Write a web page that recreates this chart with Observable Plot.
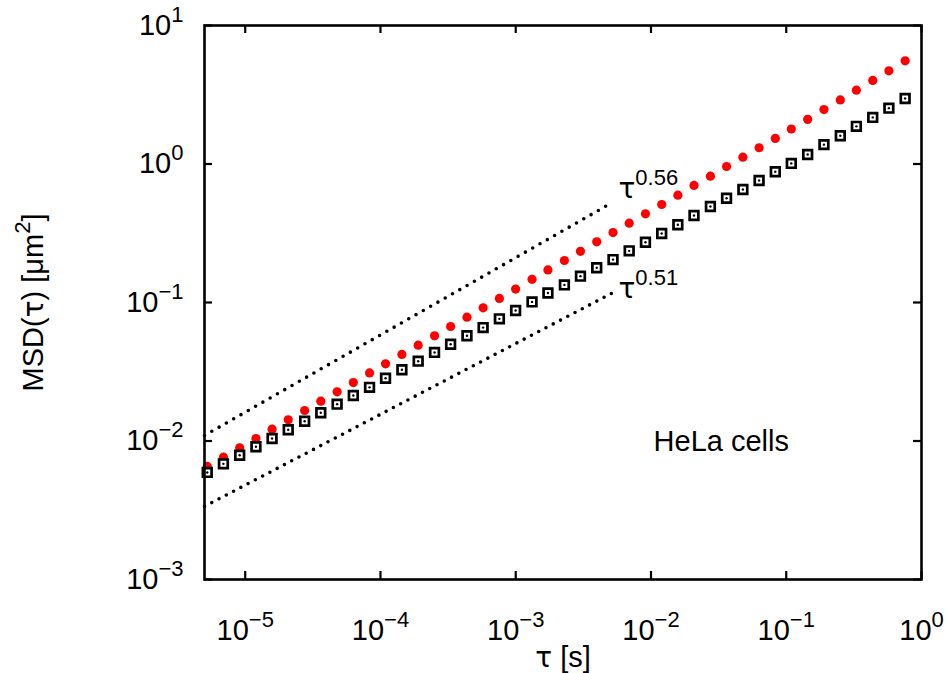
<!DOCTYPE html>
<html><head><meta charset="utf-8">
<script src="https://cdn.jsdelivr.net/npm/d3@7"></script>
<script src="https://cdn.jsdelivr.net/npm/@observablehq/plot@0.6"></script>
<style>html,body{margin:0;padding:0;background:#fff;}</style>
</head><body><div id="chart"></div>
<script>
// ---- data ----
const tau = [5.24e-6, 6.90e-6, 9.10e-6, 1.20e-5, 1.58e-5, 2.08e-5, 2.75e-5, 3.62e-5, 4.78e-5, 6.30e-5, 8.30e-5,
  1.09e-4, 1.44e-4, 1.90e-4, 2.51e-4, 3.30e-4, 4.36e-4, 5.74e-4, 7.57e-4, 9.98e-4,
  1.32e-3, 1.73e-3, 2.29e-3, 3.01e-3, 3.97e-3, 5.24e-3, 6.90e-3, 9.10e-3,
  1.20e-2, 1.58e-2, 2.08e-2, 2.75e-2, 3.62e-2, 4.78e-2, 6.30e-2, 8.30e-2,
  0.109, 0.144, 0.190, 0.251, 0.330, 0.436, 0.574, 0.757];
const msdRed = [6.55e-3, 7.64e-3, 8.93e-3, 1.042e-2, 1.217e-2, 1.422e-2, 1.660e-2, 1.938e-2, 2.265e-2, 2.64e-2,
  3.10e-2, 3.61e-2, 4.22e-2, 4.92e-2, 5.75e-2, 6.71e-2, 7.83e-2, 9.16e-2,
  0.107, 0.125, 0.147, 0.172, 0.201, 0.234, 0.274, 0.320, 0.374, 0.437, 0.510, 0.596, 0.700, 0.817, 0.959,
  1.12, 1.31, 1.53, 1.79, 2.10, 2.47, 2.90, 3.41, 4.01, 4.71, 5.56];
const msdBlack = [5.93e-3, 6.84e-3, 7.89e-3, 9.08e-3,
  1.042e-2, 1.205e-2, 1.390e-2, 1.600e-2, 1.845e-2, 2.13e-2, 2.44e-2, 2.84e-2, 3.27e-2, 3.77e-2, 4.36e-2, 5.00e-2, 5.75e-2, 6.59e-2, 7.62e-2, 8.75e-2,
  0.101, 0.117, 0.134, 0.155, 0.178, 0.204, 0.236, 0.272, 0.315, 0.364, 0.425, 0.493, 0.566, 0.655, 0.760, 0.879,
  1.01, 1.17, 1.38, 1.60, 1.87, 2.17, 2.53, 2.97];
const fitTau = [5.0e-6, 5.14e-3];
const fit056 = [0.01096, 0.525];
const fit051 = [0.00337, 0.1167];
const xTicks = [1e-5, 1e-4, 1e-3, 1e-2, 1e-1, 1];
const yTicks = [1e-3, 1e-2, 1e-1, 1, 10];
const annoText = ["τ^{0.56}", "τ^{0.51}"];
const annoX = [5.75e-3, 5.75e-3];
const annoY = [0.564, 0.1075];
const cellText = ["HeLa cells"];
const cellX = [0.01045];
const cellY = [8.53e-3];
const xTitle = ["τ [s]"];
const yTitle = ["MSD(τ) [μm^{2}]"];

// ---- layout ----
const W = 945, H = 673, mL = 204, mR = 24, mT = 25, mB = 94;
const pw = W - mL - mR, ph = H - mT - mB;
const FONT = "'Liberation Sans', Arial, Helvetica, sans-serif";
const TAUFONT = "'DejaVu Sans', sans-serif";
const FS = 29;
const pow10 = d => { const e = Math.round(Math.log10(d)); return "10^{" + (e < 0 ? "\u2212" + (-e) : e) + "}"; };

const red = tau.map((t, i) => ({t, v: msdRed[i]}));
const blk = tau.map((t, i) => ({t, v: msdBlack[i]}));
const fitUp = fitTau.map((t, i) => ({t, v: fit056[i]}));
const fitLo = fitTau.map((t, i) => ({t, v: fit051[i]}));
const annos = annoText.map((s, i) => ({s, x: annoX[i], y: annoY[i]}));
const cells = cellText.map((s, i) => ({s, x: cellX[i], y: cellY[i]}));

const svg = Plot.plot({
  width: W, height: H, marginLeft: mL, marginRight: mR, marginTop: mT, marginBottom: mB,
  style: {fontFamily: FONT, fontSize: FS + "px", background: "white", color: "black"},
  x: {type: "log", domain: [5e-6, 1]},
  y: {type: "log", domain: [1e-3, 10]},
  marks: [
    Plot.line(fitUp, {x: "t", y: "v", stroke: "black", strokeWidth: 3.6, strokeDasharray: "0,8.4", strokeLinecap: "round"}),
    Plot.line(fitLo, {x: "t", y: "v", stroke: "black", strokeWidth: 3.6, strokeDasharray: "0,8.2", strokeLinecap: "round"}),
    Plot.dot(red, {x: "t", y: "v", r: 4.6, fill: "#ff0000"}),
    Plot.dot(blk, {x: "t", y: "v", symbol: "square", r: 4.9, stroke: "black", strokeWidth: 2.7, fill: "white"}),
    Plot.dot(blk, {x: "t", y: "v", r: 1.2, fill: "black"}),
    Plot.ruleX(xTicks, {insetTop: ph - 8, stroke: "black", strokeWidth: 2.2}),
    Plot.ruleX(xTicks, {insetBottom: ph - 8, stroke: "black", strokeWidth: 2.2}),
    Plot.ruleY(yTicks, {insetRight: pw - 8, stroke: "black", strokeWidth: 2.2}),
    Plot.ruleY(yTicks, {insetLeft: pw - 8, stroke: "black", strokeWidth: 2.2}),
    Plot.frame({stroke: "black", strokeWidth: 2.6}),
    Plot.axisX(xTicks, {tickSize: 0, tickPadding: 40, tickFormat: pow10, fontSize: FS, fontFamily: FONT, label: null}),
    Plot.axisY(yTicks, {tickSize: 0, tickPadding: 21, tickFormat: pow10, fontSize: FS, fontFamily: FONT, label: null}),
    Plot.text(annos, {x: "x", y: "y", text: "s", textAnchor: "start", lineAnchor: "bottom", fontSize: 38, fontFamily: FONT, ariaLabel: "anno"}),
    Plot.text(cells, {x: "x", y: "y", text: "s", textAnchor: "start", lineAnchor: "bottom", fontSize: FS, fontFamily: FONT}),
    Plot.text(xTitle, {frameAnchor: "bottom", dy: 87, lineAnchor: "bottom", textAnchor: "middle", fontSize: FS, fontFamily: FONT}),
    Plot.text(yTitle, {frameAnchor: "left", dx: -171, rotate: -90, lineAnchor: "middle", textAnchor: "middle", fontSize: FS, fontFamily: FONT, ariaLabel: "ytitle"})
  ]
});

const NS = "http://www.w3.org/2000/svg";
function rich(el, str, supSize, raise, tauSize) {
  const parts = []; const re = /\^\{([^}]*)\}/g; let last = 0, m;
  while ((m = re.exec(str))) {
    if (m.index > last) parts.push([str.slice(last, m.index), false]);
    parts.push([m[1], true]); last = re.lastIndex;
  }
  if (last < str.length) parts.push([str.slice(last), false]);
  el.textContent = "";
  let raised = false;
  for (const [s, isSup] of parts) {
    const pieces = s.split(/(τ)/).filter(p => p.length);
    pieces.forEach((p, k) => {
      const ts = document.createElementNS(NS, "tspan");
      ts.textContent = p;
      if (p === "τ") { ts.setAttribute("font-family", TAUFONT); if (tauSize) ts.setAttribute("font-size", tauSize); }
      if (isSup) ts.setAttribute("font-size", supSize);
      if (k === 0) {
        if (isSup && !raised) { ts.setAttribute("dy", -raise); raised = true; }
        else if (!isSup && raised) { ts.setAttribute("dy", raise); raised = false; }
      }
      el.appendChild(ts);
    });
  }
}
svg.querySelectorAll("text").forEach(el => {
  const s = el.textContent;
  if (!s.includes("^{") && !s.includes("τ")) return;
  const g = el.closest("g");
  const lab = g ? g.getAttribute("aria-label") : "";
  if (lab === "anno") rich(el, s, 25, 16, 44);
  else rich(el, s, 22, 13, 28);
});
document.getElementById("chart").appendChild(svg);
</script></body></html>
